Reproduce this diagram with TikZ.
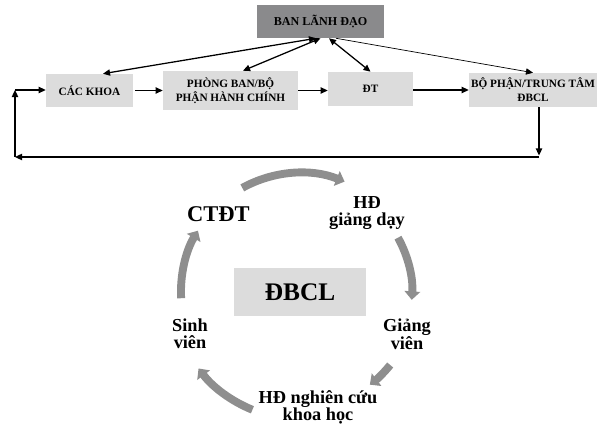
\documentclass[tikz,border=0pt]{standalone}
\usepackage{fontspec}
\setmainfont{Liberation Serif}
\usetikzlibrary{arrows.meta}
\definecolor{leadgray}{HTML}{8A8A8C}
\definecolor{boxgray}{HTML}{DCDCDC}
\definecolor{cyclegray}{HTML}{8E8E8E}
\begin{document}
\begin{tikzpicture}[x=0.025cm,y=0.025cm,
    box/.style={fill=boxgray,inner sep=0pt,align=center,font=\bfseries\fontsize{8}{10}\selectfont},
    conn/.style={line width=0.9pt,-{Triangle[length=5pt,width=4.5pt]}},
    both/.style={line width=0.9pt,{Triangle[length=5pt,width=4.5pt]}-{Triangle[length=5pt,width=4.5pt]}},
    cyc/.style={draw=cyclegray,line width=5.6pt,-{Triangle[length=6pt,width=11pt]}},
    lbl/.style={align=center,font=\bfseries\fontsize{13}{12}\selectfont}]
                \useasboundingbox (0,0) rectangle (604,-425);
                \node [box,fill=leadgray,minimum width=3.175cm,minimum height=0.825cm,font=\bfseries\fontsize{8.6}{10}\selectfont] (lanhdao) at (320.5,-21.5) {BAN LÃNH ĐẠO};
                \node [box,minimum width=2.175cm,minimum height=0.825cm] (khoa) at (89.5,-90.5) {CÁC KHOA};
                \node [box,minimum width=3.375cm,minimum height=0.975cm] (phong) at (230.5,-90.5) {PHÒNG BAN/BỘ\\PHẬN HÀNH CHÍNH};
                \node [box,minimum width=2.125cm,minimum height=0.85cm] (dt) at (370.5,-89) {ĐT};
                \node [box,minimum width=3.2cm,minimum height=0.85cm] (ttdbcl) at (533,-90) {BỘ PHẬN/TRUNG TÂM\\ĐBCL};
                \draw [both] ([xshift=-0.1125cm]lanhdao.south) -- ([xshift=0.3375cm]khoa.north);
                \draw [both] (lanhdao.south) -- ([xshift=0.3125cm]phong.north);
                \draw [both] ([xshift=0.2125cm]lanhdao.south) -- (dt.north);
                \draw [conn,line width=0.5pt] ([xshift=0.3875cm]lanhdao.south) -- (ttdbcl.north);
                \draw [conn] ([xshift=0.05cm]khoa.east) -- (phong.west);
                \draw [conn] (phong.east) -- (phong.east -| dt.west);
                \draw [conn] (dt.east |- ttdbcl.west) -- (ttdbcl.west);
                \coordinate (dr) at (539,-157);
                \coordinate (dl) at (15,-157);
                \coordinate (ul) at (15,-90);
                \draw [conn] (ttdbcl.south -| dr) -- ([yshift=0.0375cm]dr);
                \draw [conn] (dr) -- (dl);
                \draw [conn] (dl) -- (ul);
                \draw [conn] (ul) -- (ul -| khoa.west);
                \coordinate (c) at (300,-292);
                \node [fill=boxgray,minimum width=3.3cm,minimum height=1.2cm,font=\bfseries\fontsize{18}{20}\selectfont] (dbcl) at (c) {ĐBCL};
                \node [lbl,font=\bfseries\fontsize{16}{16}\selectfont] (ctdt) at (218.5,-214.5) {CTĐT};
                \node [lbl] (hdgd) at (367,-213) {HĐ\\giảng dạy};
                \node [lbl] (gv) at (407,-334) {Giảng\\viên};
                \node [lbl] (hdnc) at (318,-407) {HĐ nghiên cứu\\khoa học};
                \node [lbl] (sv) at (190,-334) {Sinh\\viên};
                \draw [cyc] ([shift={(119:2.975cm)}]c) arc[start angle=119,end angle=68,radius=2.975cm];
                \draw [cyc] ([shift={(29:2.8cm)}]c) arc[start angle=29,end angle=-4,radius=2.8cm];
                \draw [cyc] ([shift={(-39:2.9cm)}]c) arc[start angle=-39,end angle=-53,radius=2.9cm];
                \draw [cyc] ([shift={(-112:3.175cm)}]c) arc[start angle=-112,end angle=-143,radius=3.175cm];
                \draw [cyc] ([shift={(183:2.975cm)}]c) arc[start angle=183,end angle=149,radius=2.975cm];
            \end{tikzpicture}
\end{document}
